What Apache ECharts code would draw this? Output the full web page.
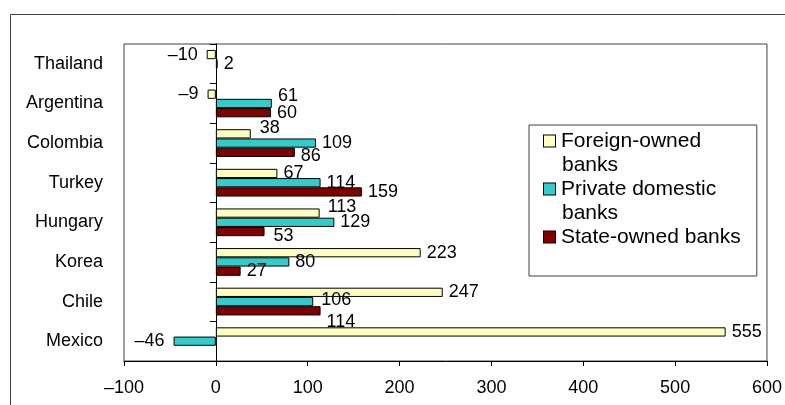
<!DOCTYPE html>
<html>
<head>
<meta charset="utf-8">
<script src="https://cdn.jsdelivr.net/npm/echarts@6/dist/echarts.min.js"></script>
<style>
html,body{margin:0;padding:0;background:#fff;}
#chart{width:785px;height:405px;}
</style>
</head>
<body>
<div id="chart"></div>
<script>
// ---- data (top to bottom) ----
var categories = ['Thailand', 'Argentina', 'Colombia', 'Turkey', 'Hungary', 'Korea', 'Chile', 'Mexico'];
var seriesNames = ['Foreign-owned banks', 'Private domestic banks', 'State-owned banks'];
var foreignOwned = [-10, -9, 38, 67, 113, 223, 247, 555];
var privateDomestic = [2, 61, 109, 114, 129, 80, 106, -46];
var stateOwned = [null, 60, 86, 159, 53, 27, 114, null];
var xTicks = { min: -100, max: 600, interval: 100 };

// ---- styles ----
var FONT = 'Liberation Sans, Arial, sans-serif';
var colors = ['#FFFFC0', '#33CCCC', '#800000'];
var legendLines = {
  'Foreign-owned banks': ['Foreign-owned', 'banks'],
  'Private domestic banks': ['Private domestic', 'banks'],
  'State-owned banks': ['State-owned banks']
};
var legendKeys = { 'Foreign-owned banks': 'c0', 'Private domestic banks': 'c1', 'State-owned banks': 'c2' };
// label nudges to mimic the original's collision-avoidance (series index | category)
var labelNudge = {
  '0|Colombia': [3, -6],
  '2|Colombia': [0, 4],
  '1|Argentina': [0, -7],
  '0|Hungary': [2, -6],
  '2|Hungary': [3, 4],
  '1|Chile': [2, -2],
  '2|Chile': [0, 11]
};

function dash(v) { return String(v).replace('-', '\u2013'); }

function buildData(values, si) {
  return values.map(function (v, i) {
    if (v === null) return '-';
    var neg = v < 0;
    return {
      value: v,
      label: {
        position: neg ? 'left' : 'right',
        distance: neg ? 9 : 6,
        offset: labelNudge[si + '|' + categories[i]] || [0, 0]
      }
    };
  });
}

var allValues = [foreignOwned, privateDomestic, stateOwned];
var series = allValues.map(function (vals, si) {
  return {
    name: seriesNames[si],
    type: 'bar',
    yAxisIndex: 0,
    barGap: '0%',
    barCategoryGap: '30%',
    itemStyle: { color: colors[si], borderColor: '#000', borderWidth: 1 },
    label: {
      show: true,
      fontSize: 18,
      color: '#000',
      fontFamily: FONT,
      formatter: function (p) { return dash(p.value); }
    },
    emphasis: { disabled: true },
    data: buildData(vals, si)
  };
});

var LH = 24;
var rich = {
  t: { fontSize: 21, lineHeight: LH, height: LH, fontFamily: FONT, color: '#000', padding: [0, 0, 0, 6] },
  sp: { width: 12, height: 11, lineHeight: LH }
};
colors.forEach(function (c, i) {
  rich['c' + i] = { width: 11, height: 11, lineHeight: LH, backgroundColor: c, borderColor: '#000', borderWidth: 1 };
});

var chart = echarts.init(document.getElementById('chart'), null, { renderer: 'canvas' });
chart.setOption({
  animation: false,
  textStyle: { fontFamily: FONT },
  graphic: [{
    type: 'rect',
    shape: { x: 10.5, y: 14.5, width: 800, height: 420 },
    style: { fill: 'none', stroke: '#404040', lineWidth: 1 },
    silent: true
  }],
  grid: {
    left: 124, right: 13, top: 44, bottom: 44,
    show: true, borderColor: '#404040', borderWidth: 1, backgroundColor: 'transparent'
  },
  legend: {
    orient: 'vertical',
    left: 529, top: 125,
    backgroundColor: '#fff',
    borderColor: '#404040', borderWidth: 1,
    padding: [4, 16, 27, 10],
    itemGap: 0,
    itemWidth: 0, itemHeight: 0, textGap: 0,
    itemStyle: { opacity: 0, borderWidth: 0 },
    selectedMode: false,
    data: seriesNames,
    textStyle: { fontSize: 21, lineHeight: LH, color: '#000', fontFamily: FONT, rich: rich },
    formatter: function (name) {
      var lines = legendLines[name];
      var key = legendKeys[name];
      return lines.map(function (l, k) {
        return (k === 0 ? '{' + key + '|}' : '{sp|}') + '{t|' + l + '}';
      }).join('\n');
    }
  },
  xAxis: {
    type: 'value',
    min: xTicks.min, max: xTicks.max, interval: xTicks.interval,
    axisLine: { show: true, lineStyle: { color: '#000', width: 1 } },
    axisTick: { show: true, length: 5, lineStyle: { color: '#000' } },
    splitLine: { show: false },
    axisLabel: { fontSize: 18, color: '#000', margin: 18, fontFamily: FONT, formatter: function (v) { return dash(v); } }
  },
  yAxis: [{
    type: 'category',
    inverse: true,
    data: categories,
    position: 'left',
    axisLine: { show: true, onZero: true, lineStyle: { color: '#000', width: 1 } },
    axisTick: { show: true, length: 6, lineStyle: { color: '#000' } },
    axisLabel: { show: false }
  }, {
    type: 'category',
    inverse: true,
    data: categories,
    position: 'left',
    axisLine: { show: false, onZero: false },
    axisTick: { show: false },
    axisLabel: { show: true, fontSize: 18, color: '#000', margin: 21, fontFamily: FONT }
  }],
  series: series
});
</script>
</body>
</html>
